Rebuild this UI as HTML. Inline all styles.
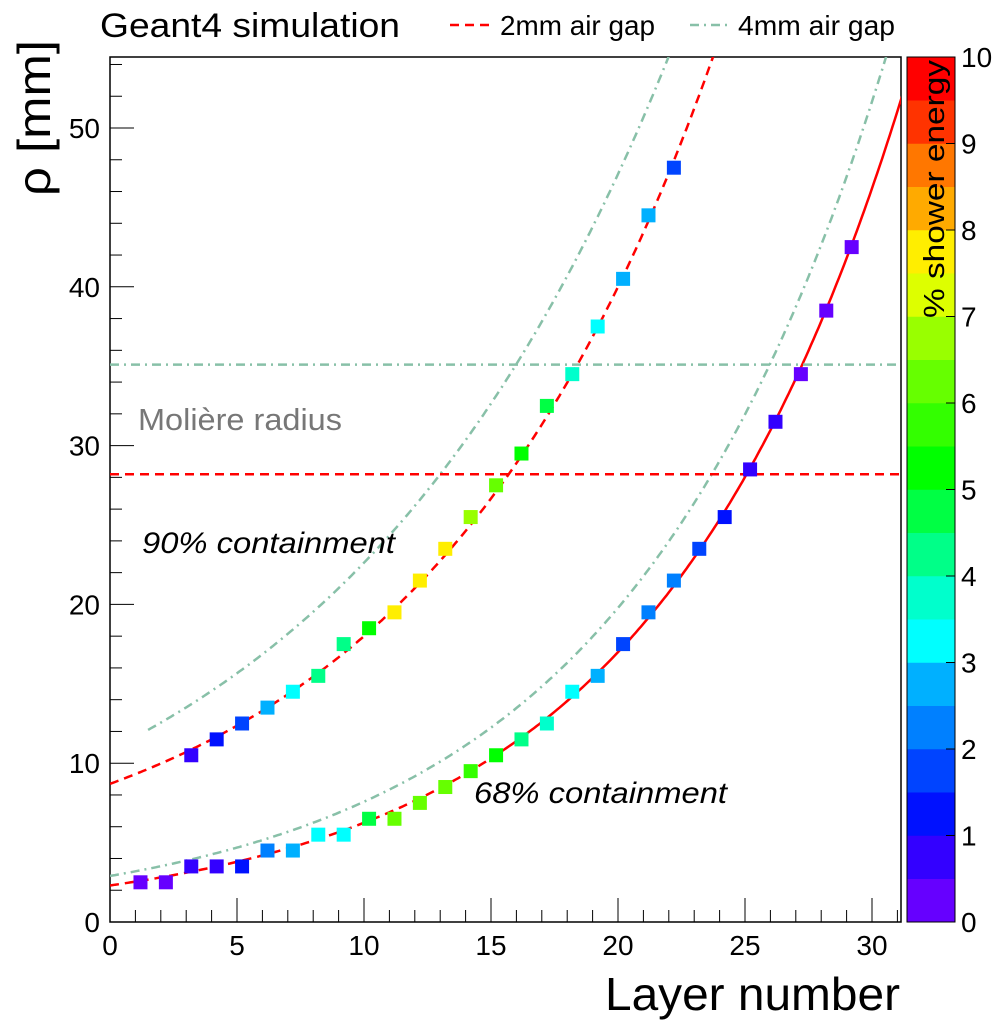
<!DOCTYPE html>
<html><head><meta charset="utf-8"><style>
body{margin:0;background:#fff;}
svg text{font-family:"Liberation Sans",sans-serif;}
</style></head><body>
<svg id="c" width="1000" height="1023" xmlns="http://www.w3.org/2000/svg">
<defs><clipPath id="pc"><rect x="110" y="57" width="791" height="865"/></clipPath></defs>
<g id="bands"></g>
<rect x="110" y="57" width="791" height="865" fill="none" stroke="#000" stroke-width="1.5"/>
<g id="axes"></g>
<g id="curves" clip-path="url(#pc)"></g>
<g id="pts"></g>
<text x="100" y="37" font-size="34" textLength="300" lengthAdjust="spacingAndGlyphs">Geant4 simulation</text>
<line x1="450" y1="25" x2="492" y2="25" stroke="#f00" stroke-width="2.5" stroke-dasharray="9,6"/>
<text x="500" y="35" font-size="28" textLength="155" lengthAdjust="spacingAndGlyphs">2mm air gap</text>
<line x1="690" y1="25" x2="732" y2="25" stroke="#88c0a8" stroke-width="2.5" stroke-dasharray="9,5,2,5"/>
<text x="738" y="35" font-size="28" textLength="157" lengthAdjust="spacingAndGlyphs">4mm air gap</text>
<text x="138" y="430" font-size="31" fill="#777" textLength="204" lengthAdjust="spacingAndGlyphs">Molière radius</text>
<text x="142" y="553" font-size="30" font-style="italic" textLength="253" lengthAdjust="spacingAndGlyphs">90% containment</text>
<text x="474" y="803" font-size="30" font-style="italic" textLength="253" lengthAdjust="spacingAndGlyphs">68% containment</text>
<text transform="translate(50,196) rotate(-90)" font-size="46" textLength="156" lengthAdjust="spacingAndGlyphs">ρ [mm]</text>
<text x="900" y="1010" font-size="46" text-anchor="end" textLength="295" lengthAdjust="spacingAndGlyphs">Layer number</text>
<text transform="translate(944,60) rotate(-90)" font-size="29" text-anchor="end" textLength="258" lengthAdjust="spacingAndGlyphs">% shower energy</text>
</svg>
<script>
const layers90=[3.2,4.2,5.2,6.2,7.2,8.2,9.2,10.2,11.2,12.2,13.2,14.2,15.2,16.2,17.2,18.2,19.2,20.2,21.2,22.2];
const rho90=[10.5,11.5,12.5,13.5,14.5,15.5,17.5,18.5,19.5,21.5,23.5,25.5,27.5,29.5,32.5,34.5,37.5,40.5,44.5,47.5];
const e90=[0.7,1.2,1.7,2.7,3.2,4.2,4.2,5.2,7.7,7.7,7.7,6.7,6.2,5.2,4.7,3.7,3.2,2.7,2.7,1.7];
const layers68=[1.2,2.2,3.2,4.2,5.2,6.2,7.2,8.2,9.2,10.2,11.2,12.2,13.2,14.2,15.2,16.2,17.2,18.2,19.2,20.2,21.2,22.2,23.2,24.2,25.2,26.2,27.2,28.2,29.2];
const rho68=[2.5,2.5,3.5,3.5,3.5,4.5,4.5,5.5,5.5,6.5,6.5,7.5,8.5,9.5,10.5,11.5,12.5,14.5,15.5,17.5,19.5,21.5,23.5,25.5,28.5,31.5,34.5,38.5,42.5];
const e68=[0.3,0.3,0.7,0.7,1.2,2.2,2.7,3.2,3.2,4.7,6.2,6.2,6.2,5.7,5.2,4.2,3.7,3.2,2.7,1.7,2.2,2.2,1.7,1.2,0.7,0.7,0.3,0.3,0.3];
const xTicks=[0,5,10,15,20,25,30];
const yTicks=[0,10,20,30,40,50];
const zTicks=[0,1,2,3,4,5,6,7,8,9,10];
const bandColors=["#6600ff","#3300ff","#0011ff","#0044ff","#0080ff","#00b0ff","#00ffff","#00ffcc","#00ff88","#00ff44","#00ff00","#33ff00","#66ff00","#99ff00","#ddff00","#ffee00","#ffaa00","#ff7700","#ff3300","#ff0000"];
const NS="http://www.w3.org/2000/svg";
const X=v=>110+v*25.4, Y=v=>922-v*15.88, Z=v=>922-v*86.5;
function mk(t,a,p){const e=document.createElementNS(NS,t);for(const k in a)e.setAttribute(k,a[k]);document.getElementById(p).appendChild(e);return e;}
const col=v=>bandColors[Math.max(0,Math.min(19,Math.floor(v/0.5)))];
bandColors.forEach((c,i)=>{const r=mk('rect',{x:907,y:Z((i+1)*0.5),width:48,height:43.5,fill:c},'bands');

});
mk('rect',{x:907,y:57,width:48,height:865,fill:'none',stroke:'#000','stroke-width':1},'bands');
zTicks.forEach(v=>{mk('line',{x1:955,x2:946,y1:Z(v),y2:Z(v),stroke:'#000'},'axes');
const t=mk('text',{x:961,y:Z(v)+10,'font-size':28},'axes');t.textContent=v;

});
for(let v=0;v<=31;v++){const L=v%5==0?24:12;mk('line',{x1:X(v),x2:X(v),y1:922,y2:922-L,stroke:'#000'},'axes');}
xTicks.forEach(v=>{const t=mk('text',{x:X(v),y:955,'font-size':28,'text-anchor':'middle'},'axes');t.textContent=v;

});
for(let v=0;v<=54;v+=2){const L=v%10==0?24:12;mk('line',{x1:110,x2:110+L,y1:Y(v),y2:Y(v),stroke:'#000'},'axes');}
yTicks.forEach(v=>{const t=mk('text',{x:100,y:Y(v)+10,'font-size':28,'text-anchor':'end'},'axes');t.textContent=v;

});
function curve(f,x0,x1,st,dash,name){let d='';for(let x=x0;x<=x1+1e-9;x+=0.1){d+=(d?'L':'M')+X(x).toFixed(1)+','+Y(f(x)).toFixed(1);}
const p=mk('path',{d:d,fill:'none',stroke:st,'stroke-width':2.5},'curves');if(dash)p.setAttribute('stroke-dasharray',dash);

}
const f68=x=>2.3*Math.exp(0.1*x);
curve(f68,0,15.4,'#f00','9,6','fit-68-2mm-dashed');
curve(f68,15.4,31.2,'#f00',null,'fit-68-2mm');
curve(x=>1.89+6.81*Math.exp(0.0861*x),0,24,'#f00','9,6','fit-90-2mm');
curve(x=>-0.14+10.97*Math.exp(0.073*x),1.5,23,'#88c0a8','9,5,2,5','fit-90-4mm');
curve(x=>2.9*Math.exp(0.096*x),0,31.2,'#88c0a8','9,5,2,5','fit-68-4mm');
curve(x=>28.2,0,31.2,'#f00','9,6','radius-2mm');
curve(x=>35.1,0,31.2,'#88c0a8','9,5,2,5','radius-4mm');
function pts(xs,ys,es,name){xs.forEach((x,i)=>{const r=mk('rect',{x:X(x)-7,y:Y(ys[i])-7,width:14,height:14,fill:col(es[i])},'pts');

});}
pts(layers90,rho90,e90,'point-90');
pts(layers68,rho68,e68,'point-68');
</script>
</body></html>
